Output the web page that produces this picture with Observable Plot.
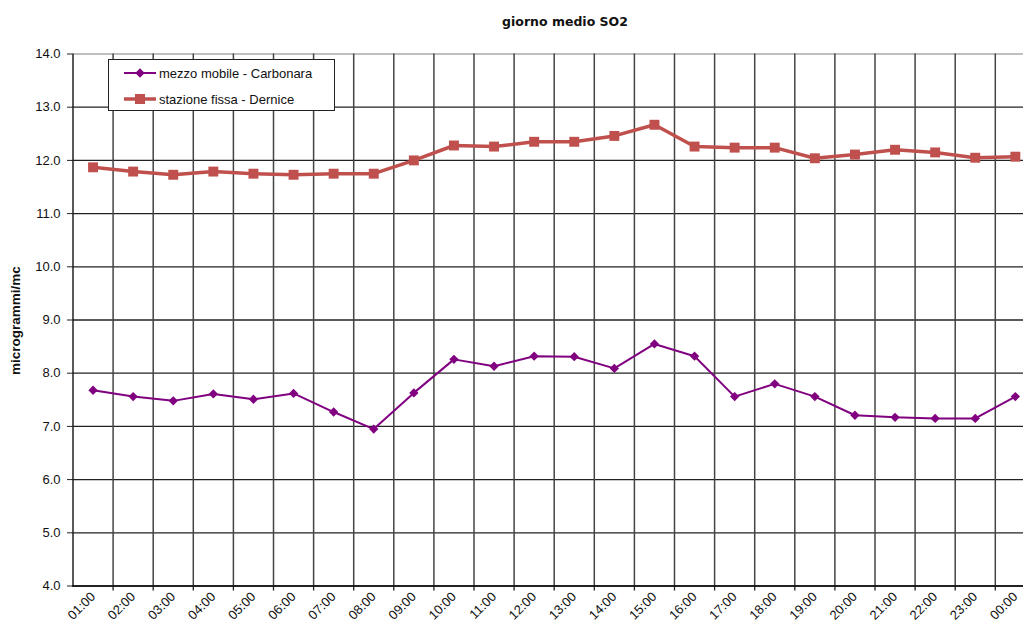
<!DOCTYPE html>
<html><head><meta charset="utf-8">
<script src="https://cdn.jsdelivr.net/npm/d3@7"></script>
<script src="https://cdn.jsdelivr.net/npm/@observablehq/plot@0.6"></script>
<style>
body{margin:0;background:#fff;overflow:hidden;}
#wrap{position:relative;width:1023px;height:629px;overflow:hidden;font-family:"Liberation Sans",Arial,sans-serif;}
#title{position:absolute;left:415px;width:300px;top:14px;text-align:center;font:bold 12.5px "DejaVu Sans",sans-serif;color:#111;}
#legend{position:absolute;left:108px;top:59px;width:227px;height:52px;border:1px solid #222;background:#fff;box-sizing:border-box;}
#legend .row{position:absolute;left:14px;height:20px;display:flex;align-items:center;font-size:13px;color:#111;}
#legend svg{margin-right:2px;}
#wrap > svg{position:absolute;left:0;top:0;overflow:hidden;}
</style></head>
<body><div id="wrap"><div id="title">giorno medio SO2</div></div>
<script>
const hours = ["01:00","02:00","03:00","04:00","05:00","06:00","07:00","08:00","09:00","10:00","11:00","12:00","13:00","14:00","15:00","16:00","17:00","18:00","19:00","20:00","21:00","22:00","23:00","00:00"];
const carbonara = [7.68,7.56,7.48,7.61,7.51,7.62,7.27,6.95,7.63,8.26,8.13,8.32,8.31,8.09,8.55,8.32,7.56,7.80,7.56,7.21,7.17,7.15,7.15,7.56];
const dernice = [11.87,11.79,11.73,11.79,11.75,11.73,11.75,11.75,12.00,12.28,12.26,12.35,12.35,12.46,12.67,12.26,12.24,12.24,12.04,12.11,12.20,12.15,12.05,12.07];
const yTicks = [4,5,6,7,8,9,10,11,12,13,14];
const seriesNames = ["mezzo mobile - Carbonara","stazione fissa - Dernice"];
const colors = ["#800080","#C0504D"];

const rows = hours.flatMap((h,i)=>[
  {i, hour:h, v:carbonara[i], s:seriesNames[0]},
  {i, hour:h, v:dernice[i], s:seriesNames[1]}
]);
const boundaries = hours.slice(0,-1).map((h,i)=>i+0.5).concat([hours.length-0.5]);

const chart = Plot.plot({
  width: 1023, height: 629,
  marginLeft: 72, marginTop: 53, marginBottom: 43, marginRight: 0,
  style: {fontFamily: '"Liberation Sans",Arial,sans-serif', fontSize: "13px", background: "#fff", color: "#111"},
  x: {type: "linear", domain: [-0.5, hours.length - 0.5], range: [72.5, 72.5 + 40.1*24], axis: null},
  y: {domain: [4, 14], range: [585.5, 53.5], axis: null},
  marks: [
    Plot.ruleY(yTicks.filter(t=>t<14), {stroke: "#222", strokeWidth: 1.3}),
    Plot.ruleY([14], {stroke: "#aaa", strokeWidth: 1.5}),
    Plot.ruleX(boundaries, {y1: 4, y2: 14, stroke: "#444", strokeWidth: 1.5}),
    Plot.ruleX(boundaries, {y1: 4, y2: 4, insetBottom: -5, stroke: "#222", strokeWidth: 1.3}),
    Plot.ruleX([-0.5], {y1: 4, y2: 14, stroke: "#222", strokeWidth: 1.5}),
    Plot.ruleY([4], {stroke: "#111", strokeWidth: 1.6}),
    Plot.axisY(yTicks, {label: null, tickSize: 5, tickPadding: 7, tickFormat: d => d.toFixed(1), stroke: "#222", fontSize: 13}),
    Plot.axisX(hours.map((h,i)=>i), {label: null, tickSize: 0, tickRotate: -45, tickPadding: 8, tickFormat: i => hours[i], fontSize: 13}),
    Plot.text(["microgrammi/mc"], {frameAnchor: "left", dx: -57, dy: 55, rotate: -90, fontWeight: "bold", fontSize: 13.5, fill: "#111"}),
    Plot.line(rows, {x: "i", y: "v", z: "s", stroke: "s", strokeWidth: d => d.s === seriesNames[1] ? 3.5 : 2}),
    Plot.dot(rows.filter(d=>d.s===seriesNames[1]), {x: "i", y: "v", symbol: "square", r: 5.6, fill: colors[1], stroke: "none"}),
    Plot.dot(rows.filter(d=>d.s===seriesNames[0]), {x: "i", y: "v", symbol: "diamond2", r: 4.2, fill: colors[0], stroke: "none"})
  ],
  color: {domain: seriesNames, range: colors}
});
const wrap = document.getElementById("wrap");
wrap.insertBefore(chart, wrap.firstChild);

const legend = document.createElement("div");
legend.id = "legend";
seriesNames.forEach((name, k) => {
  const row = document.createElement("div");
  row.className = "row";
  row.style.top = (k === 0 ? 3 : 29) + "px";
  const sw = d3.create("svg").attr("width", 34).attr("height", 14);
  sw.append("line").attr("x1", 1).attr("x2", 33).attr("y1", 7).attr("y2", 7)
    .attr("stroke", colors[k]).attr("stroke-width", k ? 3.5 : 2);
  sw.append("path").attr("transform", "translate(17,7)")
    .attr("d", d3.symbol(k ? d3.symbolSquare : d3.symbolDiamond2, k ? 100 : 55)())
    .attr("fill", colors[k]);
  row.appendChild(sw.node());
  const t = document.createElement("span");
  t.textContent = name;
  row.appendChild(t);
  legend.appendChild(row);
});
wrap.appendChild(legend);
</script>
</body></html>
